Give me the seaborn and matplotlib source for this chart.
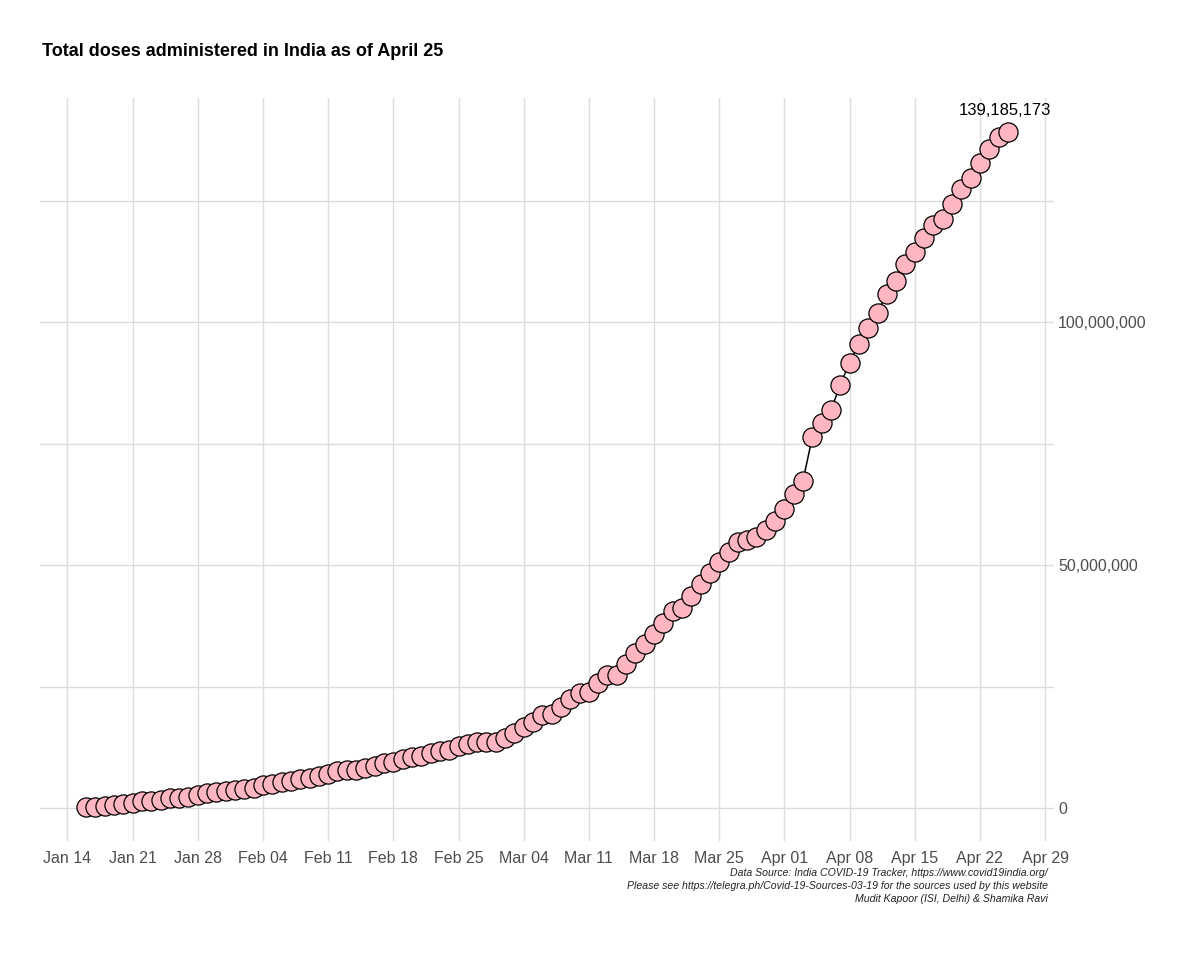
import matplotlib
matplotlib.use("Agg")
import matplotlib.pyplot as plt
import matplotlib.dates as mdates
import matplotlib.ticker as mticker
import numpy as np
import pandas as pd
import seaborn as sns

# ---- data (cumulative doses, millions) ----
start_date = "2021-01-16"
end_date = "2021-04-25"
doses_millions = [
    0.19, 0.22, 0.45, 0.63, 0.81, 1.04, 1.39, 1.58, 1.62, 2.02, 2.03, 2.32, 2.80, 3.20, 3.40, 3.50,  # Jan 16-31
    3.70, 4.00, 4.20, 4.70, 5.00, 5.40, 5.60, 6.00, 6.20, 6.70, 7.10, 7.60, 7.80, 7.90, 8.30, 8.60,
    9.20, 9.60, 10.10, 10.50, 10.80, 11.40, 11.70, 12.00, 12.70, 13.30, 13.65, 13.55,               # Feb
    13.70, 14.50, 15.40, 16.70, 17.80, 19.20, 19.30, 20.90, 22.40, 23.60, 23.90, 25.80, 27.40, 27.50,
    29.70, 31.90, 33.80, 35.90, 38.20, 40.50, 41.20, 43.70, 46.20, 48.30, 50.60, 52.80, 54.80, 55.20,
    55.70, 57.20, 59.10,                                                                             # Mar
    61.50, 64.60, 67.40, 76.40, 79.30, 81.90, 87.10, 91.70, 95.60, 98.90, 101.90, 105.90, 108.50,
    111.90, 114.50, 117.30, 119.90, 121.20, 124.30, 127.40, 129.60, 132.80, 135.60, 138.20,
    139.185173,                                                                                      # Apr
]
last_label = "139,185,173"
title = "Total doses administered in India as of April 25"
caption_lines = [
    "Data Source: India COVID-19 Tracker, https://www.covid19india.org/",
    "Please see https://telegra.ph/Covid-19-Sources-03-19 for the sources used by this website",
    "Mudit Kapoor (ISI, Delhi) & Shamika Ravi",
]
x_tick_start = "2021-01-14"
x_tick_end = "2021-04-29"
y_major = [0, 50_000_000, 100_000_000]
y_minor = [25_000_000, 75_000_000, 125_000_000]

dates = pd.date_range(start_date, end_date, freq="D")
df = pd.DataFrame({"date": dates, "doses": np.array(doses_millions) * 1e6})

sns.set_theme(style="white")
plt.rcParams["font.family"] = ["Liberation Sans", "DejaVu Sans"]

fig = plt.figure(figsize=(12, 9.75), dpi=100)
ax = fig.add_axes([0.0333, 0.1374, 0.845, 0.7621])

sns.lineplot(data=df, x="date", y="doses", ax=ax, color="black", linewidth=1.1, zorder=2)
sns.scatterplot(data=df, x="date", y="doses", ax=ax, s=190, color="#FFB6C1",
                edgecolor="black", linewidth=0.9, zorder=3)

# limits with ggplot-like expansion
d0, d1 = df["date"].min(), df["date"].max()
span = (d1 - d0)
ax.set_xlim(d0 - span * 0.05, d1 + span * 0.05)
ymin, ymax = df["doses"].min(), df["doses"].max()
yr = ymax - ymin
ax.set_ylim(ymin - 0.05 * yr, ymax + 0.05 * yr)

# ticks
xt = pd.date_range(x_tick_start, x_tick_end, freq="7D")
ax.set_xticks(xt)
ax.xaxis.set_major_formatter(mdates.DateFormatter("%b %d"))
ax.yaxis.tick_right()
ax.set_yticks(y_major)
ax.set_yticks(y_minor, minor=True)
ax.yaxis.set_major_formatter(mticker.FuncFormatter(lambda v, p: f"{int(v):,}"))
ax.tick_params(axis="both", which="both", length=0, labelsize=11.5, labelcolor="#4d4d4d")
ax.tick_params(axis="x", pad=7)
ax.tick_params(axis="y", pad=3)

ax.grid(True, which="major", color="#dcdcdc", linewidth=1.0)
ax.grid(True, which="minor", axis="y", color="#dcdcdc", linewidth=1.0)
ax.set_axisbelow(True)
for s in ax.spines.values():
    s.set_visible(False)
ax.set_xlabel("")
ax.set_ylabel("")

# annotation of last value
ax.annotate(last_label, xy=(d1, ymax), xytext=(-2, 10), textcoords="offset points",
            ha="center", va="bottom", fontsize=12, color="black")

fig.text(0.035, 1 - 52 / 975, title, fontsize=13, fontweight="bold", ha="left", va="center",
         color="black")

cap_y = [873, 886, 899]
for line, yy in zip(caption_lines, cap_y):
    fig.text(1048 / 1200, 1 - yy / 975, line, ha="right", va="center", fontsize=7.6,
             style="italic", color="#222222")

fig.savefig("out.png", dpi=100)
